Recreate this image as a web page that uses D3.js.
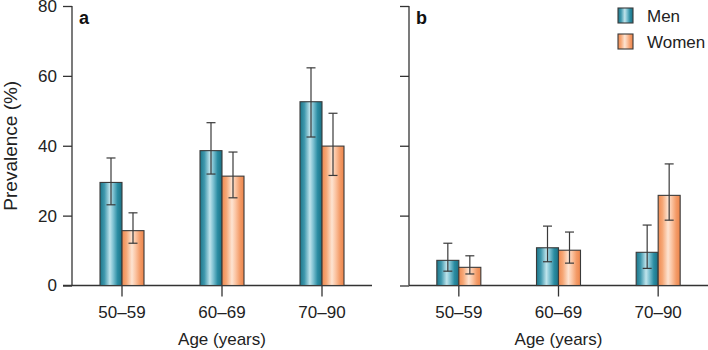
<!DOCTYPE html>
<html>
<head>
<meta charset="utf-8">
<script src="https://cdn.jsdelivr.net/npm/d3@7"></script>
<style>
  body { margin: 0; background: #fff; }
  svg { font-family: "Liberation Sans", Arial, sans-serif; }
</style>
</head>
<body>
<div id="chart"></div>
<script>
// Data
const ageGroups = ["50–59", "60–69", "70–90"];
const sexes = ["Men", "Women"];
const yTicks = [0, 20, 40, 60, 80];

// panel a
const aMen = [29.5, 38.6, 52.6];
const aMenLo = [23.1, 31.9, 42.5];
const aMenHi = [36.5, 46.6, 62.3];
const aWomen = [15.7, 31.3, 39.9];
const aWomenLo = [12.1, 25.1, 31.5];
const aWomenHi = [20.8, 38.2, 49.3];

// panel b
const bMen = [7.2, 10.8, 9.5];
const bMenLo = [4.1, 6.8, 4.9];
const bMenHi = [12.1, 17.0, 17.3];
const bWomen = [5.2, 10.1, 25.8];
const bWomenLo = [3.3, 6.4, 18.7];
const bWomenHi = [8.5, 15.3, 34.8];

function rows(men, menLo, menHi, women, womenLo, womenHi) {
    const out = [];
    ageGroups.forEach((g, i) => {
        out.push({ group: g, sex: "Men", value: men[i], lo: menLo[i], hi: menHi[i] });
        out.push({ group: g, sex: "Women", value: women[i], lo: womenLo[i], hi: womenHi[i] });
    });
    return out;
}

const panels = [
    { label: "a", x0: 72, x1: 372, data: rows(aMen, aMenLo, aMenHi, aWomen, aWomenLo, aWomenHi), showLabels: true },
    { label: "b", x0: 409, x1: 708, data: rows(bMen, bMenLo, bMenHi, bWomen, bWomenLo, bWomenHi), showLabels: false }
];

const width = 708;
const height = 350;
const axisColor = "#333";

const svg = d3.select("#chart")
    .append("svg")
    .attr("width", width)
    .attr("height", height);

// gradients for the bars
const defs = svg.append("defs");
function gradient(id, stops) {
    const g = defs.append("linearGradient")
        .attr("id", id)
        .attr("x1", "0%").attr("x2", "100%")
        .attr("y1", "0%").attr("y2", "0%");
    stops.forEach(s => g.append("stop").attr("offset", s[0]).attr("stop-color", s[1]));
}
gradient("grad-men", [["0%", "#1c7689"], ["20%", "#3f98ad"], ["45%", "#bfe4ec"], ["60%", "#7fc2d2"], ["80%", "#2a8ca2"], ["100%", "#1b7083"]]);
gradient("grad-women", [["0%", "#ee8a52"], ["20%", "#f6a877"], ["45%", "#fde4d2"], ["62%", "#fbc4a2"], ["82%", "#f39a66"], ["100%", "#ec854c"]]);

const fills = { Men: "url(#grad-men)", Women: "url(#grad-women)" };

const y = d3.scaleLinear()
    .domain([0, 80])
    .range([285.5, 6]);

panels.forEach(p => {
    const g = svg.append("g");

    const x = d3.scaleBand()
        .domain(ageGroups)
        .range([p.x0, p.x1]);

    const xSub = d3.scaleBand()
        .domain(sexes)
        .range([-22, 22]);

    // y axis
    const yAxis = d3.axisLeft(y)
        .tickValues(yTicks)
        .tickSize(9)
        .tickPadding(6)
        .tickFormat(p.showLabels ? d3.format("d") : "");

    const ya = g.append("g")
        .attr("transform", `translate(${p.x0},0)`)
        .call(yAxis);
    ya.select(".domain").attr("d", `M0,${y(80)}V${y(0)}`);
    ya.selectAll("line, path").attr("stroke", axisColor).attr("stroke-width", 1.3);
    ya.selectAll("text")
        .attr("font-size", 17)
        .attr("fill", "#222");

    // x axis line
    const xStart = p.label === "a" ? p.x0 - 9 : p.x0;
    g.append("line")
        .attr("x1", xStart)
        .attr("x2", p.x1)
        .attr("y1", y(0))
        .attr("y2", y(0))
        .attr("stroke", axisColor)
        .attr("stroke-width", 1.3);

    // category ticks and labels
    const cats = g.selectAll(".cat")
        .data(ageGroups)
        .enter()
        .append("g")
        .attr("transform", d => `translate(${x(d) + x.bandwidth() / 2},0)`);
    cats.append("line")
        .attr("y1", y(0))
        .attr("y2", y(0) + 11)
        .attr("stroke", axisColor)
        .attr("stroke-width", 1.3);
    cats.append("text")
        .attr("y", 318)
        .attr("text-anchor", "middle")
        .attr("font-size", 17)
        .attr("fill", "#222")
        .text(d => d);

    // x title
    g.append("text")
        .attr("x", (x(ageGroups[0]) + x(ageGroups[2]) + x.bandwidth()) / 2)
        .attr("y", 345)
        .attr("text-anchor", "middle")
        .attr("font-size", 17)
        .attr("fill", "#222")
        .text("Age (years)");

    // bars
    g.selectAll(".bar")
        .data(p.data)
        .enter()
        .append("rect")
        .attr("class", "bar")
        .attr("x", d => x(d.group) + x.bandwidth() / 2 + xSub(d.sex))
        .attr("width", xSub.bandwidth())
        .attr("y", d => y(d.value))
        .attr("height", d => y(0) - y(d.value))
        .attr("fill", d => fills[d.sex])
        .attr("stroke", "#3a3a3a")
        .attr("stroke-width", 1.1);

    // error bars
    const errs = g.selectAll(".err")
        .data(p.data)
        .enter()
        .append("g")
        .attr("class", "err")
        .attr("transform", d => `translate(${x(d.group) + x.bandwidth() / 2 + xSub(d.sex) + xSub.bandwidth() / 2},0)`)
        .attr("stroke", "#3a3a3a")
        .attr("stroke-width", 1.2);
    errs.append("line").attr("y1", d => y(d.lo)).attr("y2", d => y(d.hi));
    errs.append("line").attr("x1", -4.5).attr("x2", 4.5).attr("y1", d => y(d.hi)).attr("y2", d => y(d.hi));
    errs.append("line").attr("x1", -4.5).attr("x2", 4.5).attr("y1", d => y(d.lo)).attr("y2", d => y(d.lo));

    // panel letter
    g.append("text")
        .attr("x", p.x0 + 7)
        .attr("y", 24)
        .attr("font-size", 18)
        .attr("font-weight", "bold")
        .attr("fill", "#111")
        .text(p.label);
});

// y title
svg.append("text")
    .attr("transform", `translate(17,${(y(0) + y(80)) / 2}) rotate(-90)`)
    .attr("text-anchor", "middle")
    .attr("font-size", 19)
    .attr("fill", "#222")
    .text("Prevalence (%)");

// legend
const legend = svg.append("g")
    .attr("transform", "translate(618,8)");
const items = legend.selectAll("g")
    .data(sexes)
    .enter()
    .append("g")
    .attr("transform", (d, i) => `translate(0,${i * 26})`);
items.append("rect")
    .attr("width", 15)
    .attr("height", 15)
    .attr("fill", d => fills[d])
    .attr("stroke", "#3a3a3a")
    .attr("stroke-width", 1.1);
items.append("text")
    .attr("x", 29)
    .attr("y", 14)
    .attr("font-size", 17)
    .attr("fill", "#222")
    .text(d => d);
</script>
</body>
</html>
